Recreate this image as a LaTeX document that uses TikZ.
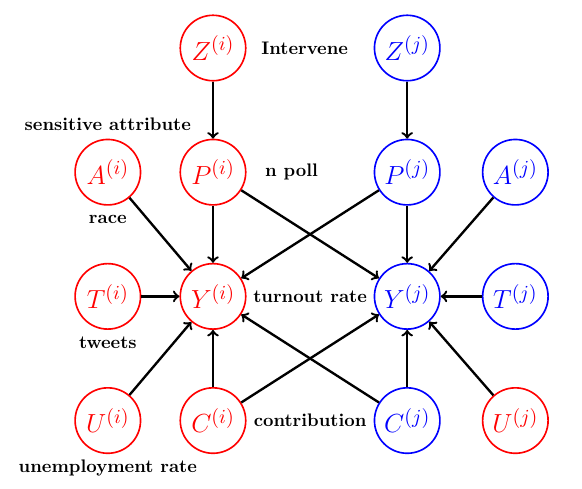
\documentclass[tikz,border=0pt]{standalone}
\usepackage{amsmath,amsfonts,amssymb}
\usetikzlibrary{positioning,calc}
\tikzset{
  unit i/.style={circle, draw=red, text=red, line width=0.9pt, minimum size=36pt, inner sep=0pt, font=\fontsize{15}{18}\selectfont},
  unit j/.style={unit i, draw=blue, text=blue},
  note/.style={inner sep=0pt, font=\bfseries},
  cause/.style={->, line width=1.3pt},
}
\begin{document}
\begin{tikzpicture}
\useasboundingbox (-117.15pt,26.4pt) rectangle (202.95pt,-242pt);
\node [unit i] (Zi) {$Z^{(i)}$};
\node [unit j, right=69.9pt of Zi] (Zj) {$Z^{(j)}$};
%----------------------------------
\node [unit i, below=31.4pt of Zi] (Pi) {$P^{(i)}$};
\node [unit j, below=31.4pt of Zj] (Pj) {$P^{(j)}$};
\node [unit i, left=20.95pt of Pi] (Ai) {$A^{(i)}$};
\node [unit j, right=22.6pt of Pj] (Aj) {$A^{(j)}$};
%----------------------------------
\node [unit i, below=31.4pt of Pi] (Yi) {$Y^{(i)}$};
\node [unit j, below=31.4pt of Pj] (Yj) {$Y^{(j)}$};
\node [unit i, below=31.4pt of Ai] (Ti) {$T^{(i)}$};
\node [unit j, below=31.4pt of Aj] (Tj) {$T^{(j)}$};
%----------------------------------
\node [unit i, below=31.4pt of Yi] (Ci) {$C^{(i)}$};
\node [unit j, below=31.4pt of Yj] (Cj) {$C^{(j)}$};
\node [unit i, below=31.4pt of Ti] (Ui) {$U^{(i)}$};
\node [unit i, below=31.4pt of Tj] (Uj) {$U^{(j)}$}; %red as well
%----------------------------------
\node [note, right=8pt of Zi] (intervene) {Intervene};
\node [note, right=10pt of Pi] (poll) {n poll};
\node [note, above=4pt of Ai] (sens) {sensitive attribute};
\node [note, below=5pt of Ai] (race) {race};
\node [note] (turnout) at ($(Yi)!0.5!(Yj)$) {turnout rate};
\node [note, below=3.5pt of Ti] (tweets) {tweets};
\node [note] (contrib) at ($(Ci)!0.5!(Cj)$) {contribution};
\node [note, below=3pt of Ui] (unemp) {unemployment rate};
%----------------------------------
\draw [cause] (Zi) -- (Pi);
\draw [cause] (Zj) -- (Pj);
\draw [cause] (Pi) -- (Yi);
\draw [cause] (Pi) -- (Yj);
\draw [cause] (Pj) -- (Yi);
\draw [cause] (Pj) -- (Yj);
\draw [cause] (Ai) -- (Yi);
\draw [cause] (Aj) -- (Yj);
\draw [cause] (Ti) -- (Yi);
\draw [cause] (Tj) -- (Yj);
\draw [cause] (Ui) -- (Yi);
\draw [cause] (Uj) -- (Yj);
\draw [cause] (Ci) -- (Yi);
\draw [cause] (Ci) -- (Yj);
\draw [cause] (Cj) -- (Yj);
\draw [cause] (Cj) -- (Yi);
\end{tikzpicture}
\end{document}
